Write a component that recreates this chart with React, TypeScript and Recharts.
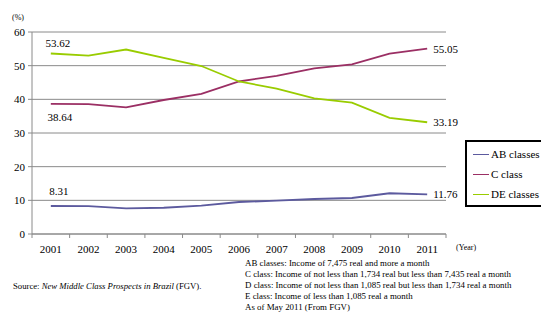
import React from 'react';
import { LineChart, Line, XAxis, YAxis, CartesianGrid, LabelList } from 'recharts';

// Share of Brazilian population by income class (%)
const years = ['2001', '2002', '2003', '2004', '2005', '2006', '2007', '2008', '2009', '2010', '2011'];
const abClasses = [8.31, 8.3, 7.6, 7.8, 8.4, 9.5, 9.9, 10.4, 10.7, 12.1, 11.76];
const cClass = [38.64, 38.6, 37.6, 39.8, 41.6, 45.3, 47.0, 49.2, 50.4, 53.6, 55.05];
const deClasses = [53.62, 53.0, 54.8, 52.3, 49.9, 45.3, 43.2, 40.3, 39.0, 34.5, 33.19];
const yTicks = [0, 10, 20, 30, 40, 50, 60];

const seriesNames = { ab: 'AB classes', c: 'C class', de: 'DE classes' };
const colors = { ab: '#5c5a9e', c: '#9b2f64', de: '#99cc00' };

const noteLines = [
  'AB classes: Income of 7,475 real and more a month',
  'C class: Income of not less than 1,734 real but less than 7,435 real a month',
  'D class: Income of not less than 1,085 real but less than 1,734 real a month',
  'E class: Income of less than 1,085 real a month',
  'As of May 2011 (From FGV)',
];

const data = years.map((year, i) => ({
  year,
  ab: abClasses[i],
  c: cClass[i],
  de: deClasses[i],
}));

const FONT = "'Liberation Serif', 'Times New Roman', serif";
const W = 541;
const H = 327;
const PLOT_LEFT = 32;
const PLOT_RIGHT = 446;
const PLOT_TOP = 32;
const PLOT_BOTTOM = 234;
const X_AXIS_H = 30;
const HALF_BAND = (PLOT_RIGHT - PLOT_LEFT) / years.length / 2;
const GRAY = '#8a8a8a';

const XTick = (props: any) => {
  const { x, payload, index } = props;
  const last = index === years.length - 1;
  return (
    <g>
      <line x1={x - HALF_BAND} x2={x - HALF_BAND} y1={PLOT_BOTTOM} y2={PLOT_BOTTOM + 4} stroke={GRAY} />
      {last && (
        <line x1={x + HALF_BAND} x2={x + HALF_BAND} y1={PLOT_BOTTOM} y2={PLOT_BOTTOM + 4} stroke={GRAY} />
      )}
      <text x={x} y={249} textAnchor="middle" dominantBaseline="central" fontSize={11} style={{ fontFamily: FONT }} fill="#000">
        {payload.value}
      </text>
    </g>
  );
};

const YTick = (props: any) => {
  const { x, y, payload } = props;
  return (
    <text x={x} y={y} textAnchor="end" dominantBaseline="central" fontSize={11} style={{ fontFamily: FONT }} fill="#000">
      {payload.value}
    </text>
  );
};

const makeEndLabel = (firstDx: number, firstDy: number) => (props: any) => {
  const { x, y, value, index } = props;
  const common = { fontSize: 11, fill: '#000', dominantBaseline: 'central' as const, style: { fontFamily: FONT } };
  if (index === 0) {
    return (
      <text x={x + firstDx} y={y + firstDy} textAnchor="middle" {...common}>
        {Number(value).toFixed(2)}
      </text>
    );
  }
  if (index === years.length - 1) {
    return (
      <text x={x + 6} y={y} textAnchor="start" {...common}>
        {Number(value).toFixed(2)}
      </text>
    );
  }
  return null;
};

const LegendBox = () => (
  <div
    style={{
      position: 'absolute',
      left: 465,
      top: 140,
      border: '2px solid #000',
      boxSizing: 'border-box',
      width: 80,
      height: 67,
      padding: '2px 0 0 6px',
      fontSize: 11,
      background: '#fff',
    }}
  >
    {(['ab', 'c', 'de'] as const).map((k) => (
      <div key={k} style={{ display: 'flex', alignItems: 'center', height: 20, whiteSpace: 'nowrap' }}>
        <span style={{ display: 'inline-block', width: 16, height: 0, borderTop: `1.5px solid ${colors[k]}`, marginRight: 2 }} />
        <span>{seriesNames[k]}</span>
      </div>
    ))}
  </div>
);

export default function App() {
  return (
    <div style={{ position: 'absolute', left: 0, top: 0, width: W, height: H, background: '#fff', fontFamily: FONT }}>
      <LineChart
        width={W}
        height={H}
        data={data}
        margin={{ top: PLOT_TOP, right: W - PLOT_RIGHT, left: 0, bottom: H - PLOT_BOTTOM - X_AXIS_H }}
        style={{ fontFamily: FONT }}
      >
        <CartesianGrid vertical={false} stroke={GRAY} strokeWidth={1} />
        <XAxis
          dataKey="year"
          interval={0}
          height={X_AXIS_H}
          padding={{ left: HALF_BAND, right: HALF_BAND }}
          axisLine={{ stroke: GRAY }}
          tickLine={false}
          tick={<XTick />}
        />
        <YAxis
          width={PLOT_LEFT}
          domain={[0, 60]}
          ticks={yTicks}
          interval={0}
          axisLine={{ stroke: GRAY }}
          tickLine={{ stroke: GRAY }}
          tickSize={4}
          tickMargin={3}
          tick={<YTick />}
        />
        <Line type="linear" dataKey="ab" name={seriesNames.ab} stroke={colors.ab} strokeWidth={1.8} dot={false} isAnimationActive={false}>
          <LabelList dataKey="ab" content={makeEndLabel(8, -15)} />
        </Line>
        <Line type="linear" dataKey="c" name={seriesNames.c} stroke={colors.c} strokeWidth={1.8} dot={false} isAnimationActive={false}>
          <LabelList dataKey="c" content={makeEndLabel(9, 13)} />
        </Line>
        <Line type="linear" dataKey="de" name={seriesNames.de} stroke={colors.de} strokeWidth={1.8} dot={false} isAnimationActive={false}>
          <LabelList dataKey="de" content={makeEndLabel(7, -10)} />
        </Line>
      </LineChart>

      <LegendBox />

      <div style={{ position: 'absolute', left: 12, top: 14, fontSize: 8, lineHeight: '8px' }}>(%)</div>
      <div style={{ position: 'absolute', left: 456, top: 244, fontSize: 8, lineHeight: '8px' }}>(Year)</div>

      <div style={{ position: 'absolute', left: 13, top: 281, fontSize: 8.7, lineHeight: '10px', whiteSpace: 'nowrap' }}>
        Source: <i>New Middle Class Prospects in Brazil</i> (FGV).
      </div>

      <div style={{ position: 'absolute', left: 245, top: 258, fontSize: 8.9, lineHeight: '11px', whiteSpace: 'nowrap' }}>
        {noteLines.map((t) => (
          <div key={t}>{t}</div>
        ))}
      </div>
    </div>
  );
}
